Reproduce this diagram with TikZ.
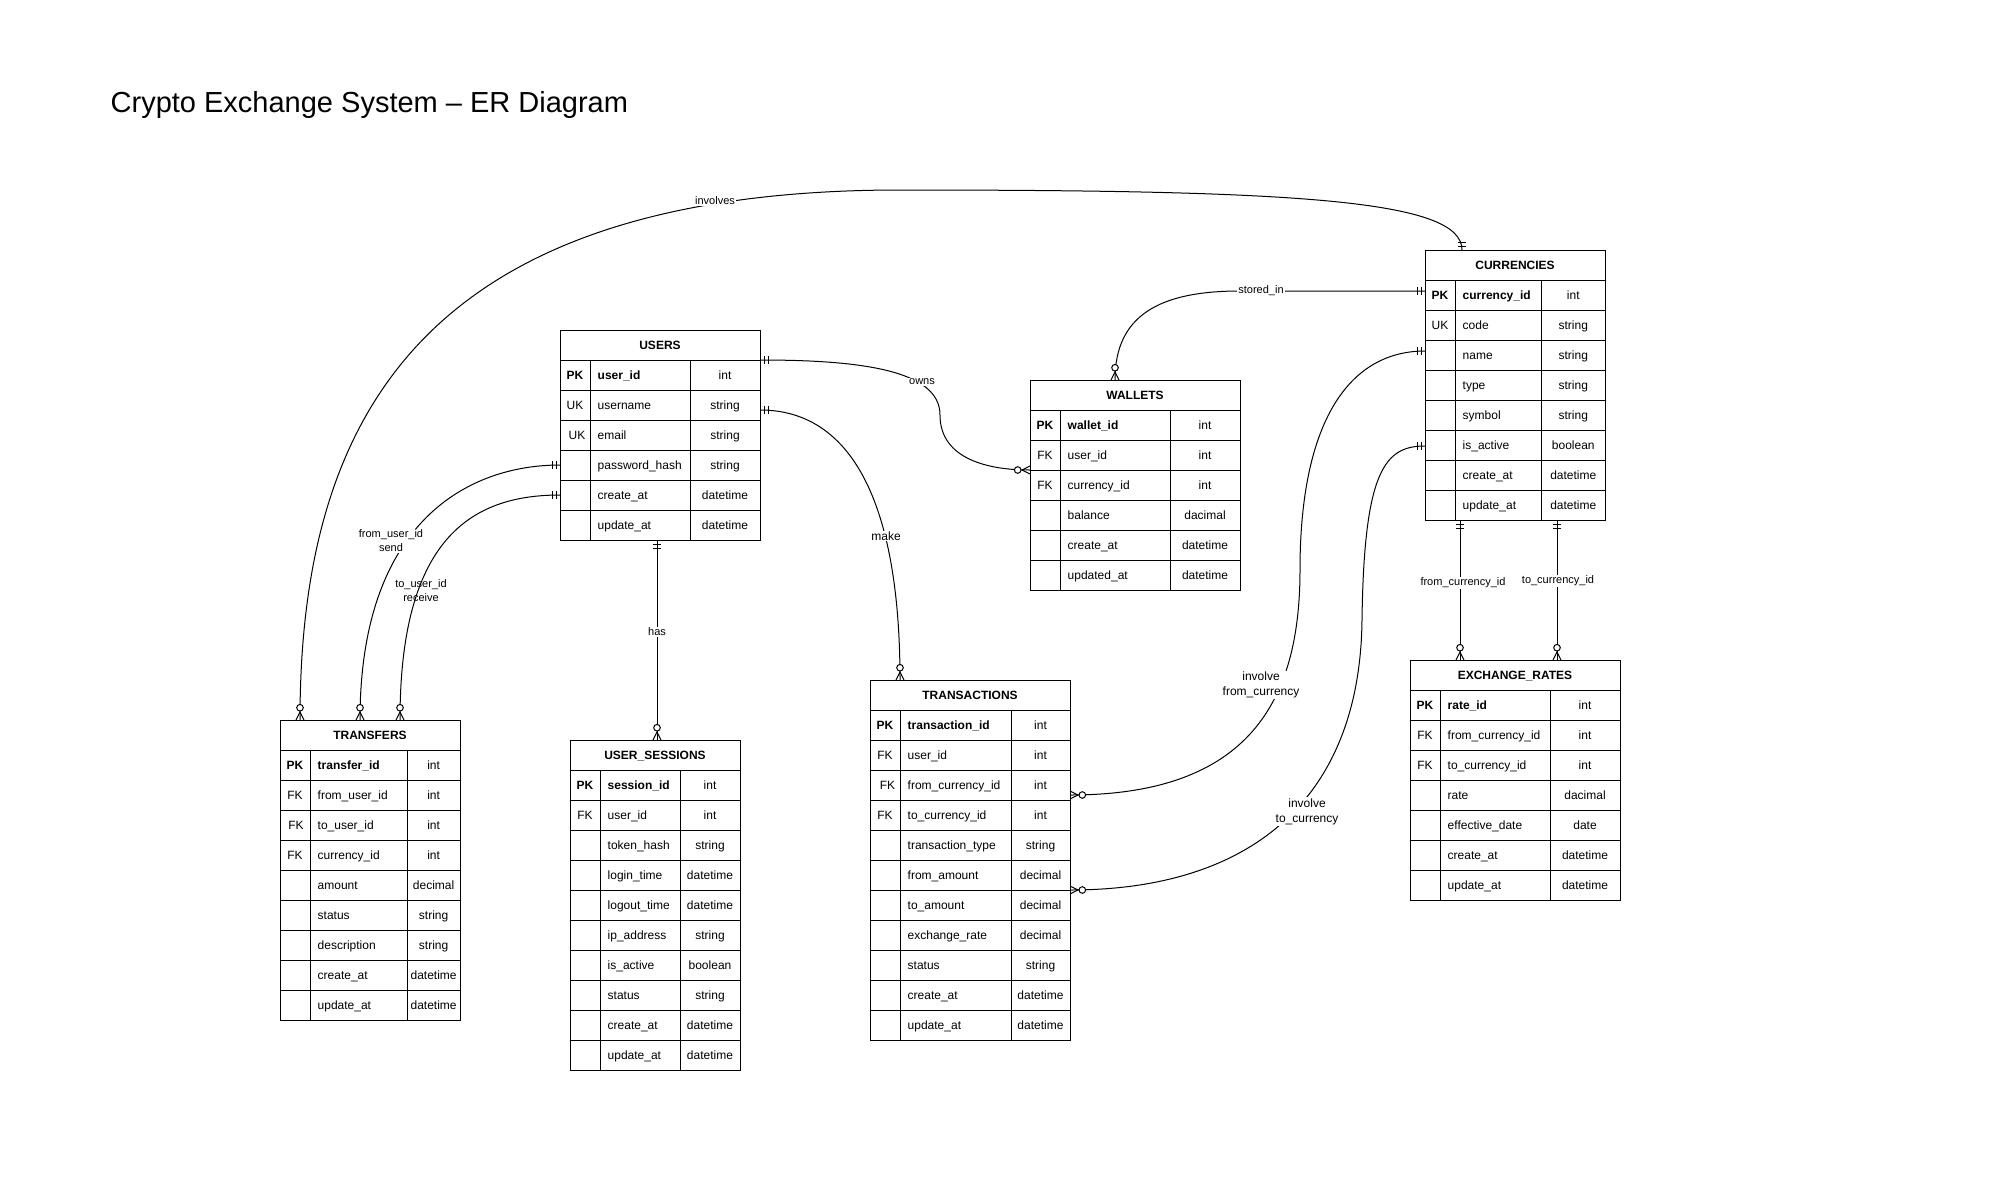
\documentclass[tikz,border=0pt]{standalone}
\usepackage{fontspec}
\setmainfont{Liberation Sans}
\tikzset{
  tbl/.style={draw=black, line width=1pt},
  cell/.style={inner sep=0pt, font=\fontsize{12}{14}\selectfont},
  hdrtext/.style={inner sep=0pt, font=\bfseries\fontsize{12}{14}\selectfont},
  rel/.style={draw=black, line width=1pt},
  lbl/.style={fill=white, inner sep=1pt, align=center, font=\fontsize{11}{14}\selectfont},
  lblbig/.style={fill=white, inner sep=1pt, align=center, font=\fontsize{12}{15}\selectfont},
  pics/erone/.style={code={\draw[line width=1pt] (4,-4) -- (4,4) (8,-4) -- (8,4);}},
  pics/ermany/.style={code={\draw[line width=1pt] (0,4) -- (8,0) -- (0,-4);
      \draw[line width=1pt, fill=white] (12.3,0) circle (3.3);}},
}
% #1 id, #2 left, #3 top, #4 key column line, #5 type column line, #6 right, #7 title, #8 rows
\newcommand{\ertable}[8]{%
  \node[tbl, fill=white, anchor=north west, inner sep=0pt, minimum width={#6-#2}, minimum height=30] (#1) at (#2,#3) {};
  \node[hdrtext, anchor=base] (#1-title) at ({(#2+#6)/2},#3+19.5) {#7};
  \foreach \ka/\na/\ta/\da [count=\ii] in {#8} {
    \pgfmathsetmacro{\ya}{#3+30*\ii}
    \draw[tbl, fill=white] (#2,\ya) rectangle (#6,\ya+30);
    \draw[tbl] (#4,\ya) -- (#4,\ya+30) (#5,\ya) -- (#5,\ya+30);
    \node[cell, anchor=base] (#1-k\ii) at ({(#2+#4)/2+\da},\ya+19.5) {\ifnum\ii=1 \bfseries\fi\ka};
    \node[cell, anchor=base west] (#1-n\ii) at (#4+7.5,\ya+19.5) {\ifnum\ii=1 \bfseries\fi\na};
    \node[cell, anchor=base] (#1-t\ii) at ({(#5+#6)/2},\ya+19.5) {\ta};
  }
}
\begin{document}
\begin{tikzpicture}[x=1pt,y=-1pt]
\fill[white] (0,0) rectangle (2000,1200);
\useasboundingbox (0,0) rectangle (2000,1200);

\node[anchor=base west, inner sep=0pt, font=\fontsize{29}{34}\selectfont] (title) at (110.5,112) {Crypto Exchange System – ER Diagram};

% connector end points
\coordinate (trtop1) at (300,720);
\coordinate (trtop2) at (360,720);
\coordinate (trtop3) at (400,720);
\coordinate (curtop) at (1462,250);
\coordinate (usr1) at (760,360);
\coordinate (usr2) at (760,410);
\coordinate (usl1) at (560,465);
\coordinate (usl2) at (560,495);
\coordinate (usb) at (657,540);
\coordinate (sest) at (657,740);
\coordinate (wall) at (1030,470);
\coordinate (walt) at (1115,380);
\coordinate (txnt) at (900,680);
\coordinate (txnr1) at (1070,795);
\coordinate (txnr2) at (1070,890);
\coordinate (curl1) at (1425,291);
\coordinate (curl2) at (1425,351);
\coordinate (curl3) at (1425,446);
\coordinate (curb1) at (1460,520);
\coordinate (curb2) at (1557,520);
\coordinate (ext1) at (1460,660);
\coordinate (ext2) at (1557,660);

% connectors
\draw[rel] (trtop1) .. controls (300,420) and (420,190) .. (900,190) .. controls (1300,190) and (1462,200) .. (curtop);
\draw[rel] (usr1) .. controls (860,360) and (940,370) .. (940,415) .. controls (940,455) and (980,470) .. (wall);
\draw[rel] (usr2) .. controls (850,410) and (900,500) .. (txnt);
\draw[rel] (usb) -- (sest);
\draw[rel] (usl1) .. controls (470,465) and (360,520) .. (trtop2);
\draw[rel] (usl2) .. controls (470,495) and (400,540) .. (trtop3);
\draw[rel] (walt) .. controls (1115,315) and (1160,291) .. (1240,291) -- (curl1);
\draw[rel] (txnr1) .. controls (1250,795) and (1300,700) .. (1300,570) .. controls (1300,420) and (1350,351) .. (curl2);
\draw[rel] (txnr2) .. controls (1250,890) and (1360,800) .. (1362,620) .. controls (1364,470) and (1385,446) .. (curl3);
\draw[rel] (curb1) -- (ext1);
\draw[rel] (curb2) -- (ext2);

% tables
\ertable{users}{560}{330}{590}{690}{760}{USERS}{PK/user\_id/int/0, UK/username/string/0, UK/email/string/2, {}/password\_hash/string/0, {}/create\_at/datetime/0, {}/update\_at/datetime/0}

\ertable{currencies}{1425}{250}{1455}{1541.5}{1605}{CURRENCIES}{PK/currency\_id/int/0, UK/code/string/0, {}/name/string/0, {}/type/string/0, {}/symbol/string/0, {}/is\_active/boolean/0, {}/create\_at/datetime/0, {}/update\_at/datetime/0}

\ertable{wallets}{1030}{380}{1060}{1170}{1240}{WALLETS}{PK/wallet\_id/int/0, FK/user\_id/int/0, FK/currency\_id/int/0, {}/balance/dacimal/0, {}/create\_at/datetime/0, {}/updated\_at/datetime/0}

\ertable{transfers}{280}{720}{310}{407.3}{460}{TRANSFERS}{PK/transfer\_id/int/0, FK/from\_user\_id/int/0, FK/to\_user\_id/int/1, FK/currency\_id/int/0, {}/amount/decimal/0, {}/status/string/0, {}/description/string/0, {}/create\_at/datetime/0, {}/update\_at/datetime/0}

\ertable{sessions}{570}{740}{600}{680}{740}{USER\_SESSIONS}{PK/session\_id/int/0, FK/user\_id/int/0, {}/token\_hash/string/0, {}/login\_time/datetime/0, {}/logout\_time/datetime/0, {}/ip\_address/string/0, {}/is\_active/boolean/0, {}/status/string/0, {}/create\_at/datetime/0, {}/update\_at/datetime/0}

\ertable{transactions}{870}{680}{900}{1011}{1070}{TRANSACTIONS}{PK/transaction\_id/int/0, FK/user\_id/int/0, FK/from\_currency\_id/int/2.5, FK/to\_currency\_id/int/0, {}/transaction\_type/string/0, {}/from\_amount/decimal/0, {}/to\_amount/decimal/0, {}/exchange\_rate/decimal/0, {}/status/string/0, {}/create\_at/datetime/0, {}/update\_at/datetime/0}

\ertable{rates}{1410}{660}{1440}{1550}{1620}{EXCHANGE\_RATES}{PK/rate\_id/int/0, FK/from\_currency\_id/int/0, FK/to\_currency\_id/int/0, {}/rate/dacimal/0, {}/effective\_date/date/0, {}/create\_at/datetime/0, {}/update\_at/datetime/0}

% cardinality markers
\pic[rotate=90] at (trtop1) {ermany};
\pic[rotate=90] at (curtop) {erone};
\pic at (usr1) {erone};
\pic[rotate=180] at (wall) {ermany};
\pic at (usr2) {erone};
\pic[rotate=90] at (txnt) {ermany};
\pic[rotate=270] at (usb) {erone};
\pic[rotate=90] at (sest) {ermany};
\pic[rotate=180] at (usl1) {erone};
\pic[rotate=90] at (trtop2) {ermany};
\pic[rotate=180] at (usl2) {erone};
\pic[rotate=90] at (trtop3) {ermany};
\pic[rotate=90] at (walt) {ermany};
\pic[rotate=180] at (curl1) {erone};
\pic at (txnr1) {ermany};
\pic[rotate=180] at (curl2) {erone};
\pic at (txnr2) {ermany};
\pic[rotate=180] at (curl3) {erone};
\pic[rotate=270] at (curb1) {erone};
\pic[rotate=90] at (ext1) {ermany};
\pic[rotate=270] at (curb2) {erone};
\pic[rotate=90] at (ext2) {ermany};

% labels
\node[lbl] (l-involves) at (715,201) {involves};
\node[lbl] (l-owns) at (922,382) {owns};
\node[lblbig] (l-make) at (886,536) {make};
\node[lbl] (l-has) at (657,632) {has};
\node[lbl] (l-send) at (391,541) {from\_user\_id\\send};
\node[lbl, fill=none] (l-receive) at (421,591) {to\_user\_id\\receive};
\node[lbl] (l-stored) at (1261,291) {stored\_in};
\node[lblbig] (l-fromcur) at (1261,685) {involve\\from\_currency};
\node[lblbig] (l-tocur) at (1307,811.5) {involve\\to\_currency};
\node[lbl] (l-fromid) at (1463,583) {from\_currency\_id};
\node[lbl] (l-toid) at (1558,581) {to\_currency\_id};
\end{tikzpicture}
\end{document}
